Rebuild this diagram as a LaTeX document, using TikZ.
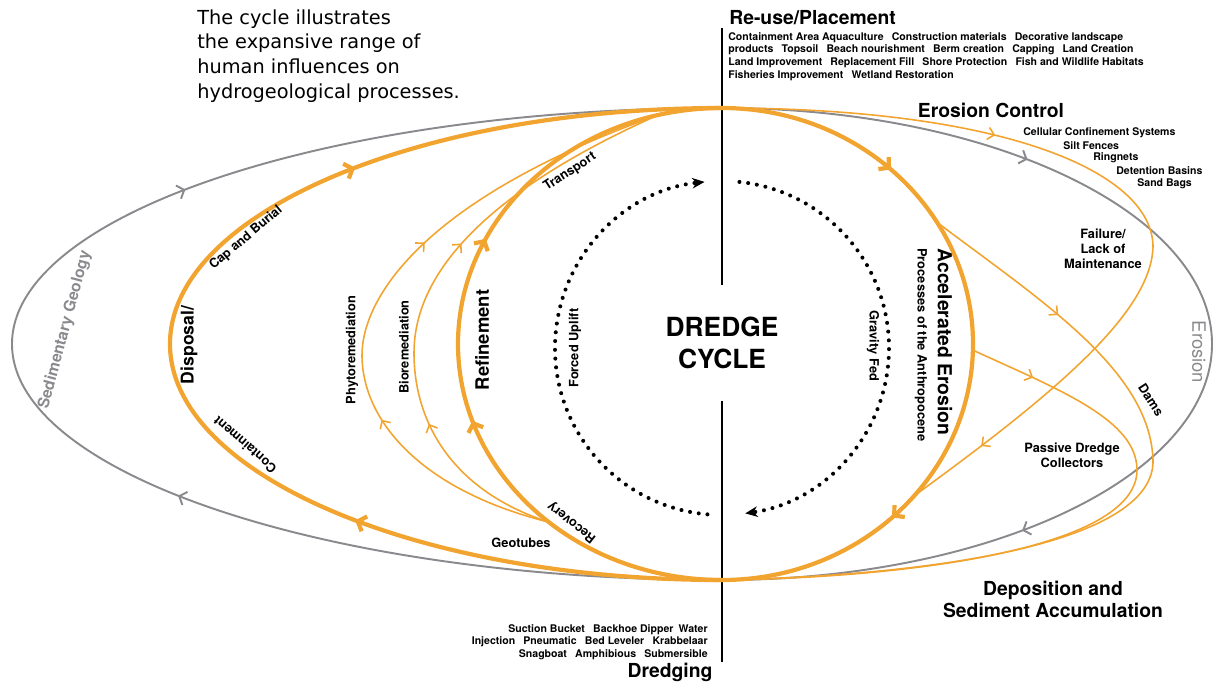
\documentclass[tikz,border=0pt]{standalone}
\usepackage{fontspec}
\setmainfont{TeX Gyre Heros}
\newfontfamily\notefont{DejaVu Sans}
\usepackage{tikz}
\usetikzlibrary{arrows.meta, decorations.markings, calc, positioning}
\usepackage{xcolor}
\definecolor{dorange}{RGB}{242,164,48}
\definecolor{dgray}{RGB}{138,138,142}
\newcommand{\fsz}[2]{\fontsize{#1}{#2}\selectfont}

\begin{document}
\begin{tikzpicture}[x=0.02cm, y=-0.02cm,
        graycurve/.style={draw=dgray, line width=1.1pt, >={Straight Barb[length=3.5pt,width=8pt]}},
        thickcurve/.style={draw=dorange, line width=2.4pt, >={Straight Barb[length=4pt,width=9pt]}},
        thincurve/.style={draw=dorange, line width=0.9pt, >={Straight Barb[length=3.5pt,width=7pt]}},
        arrowsat/.style 2 args={postaction={decorate}, decoration={markings,
                mark=at position #1 with {\arrow{>}},
                mark=at position #2 with {\arrow{>}}}},
        onearrow/.style={postaction={decorate}, decoration={markings,
                mark=at position #1 with {\arrow{>}}}},
        dotarc/.style={line width=2.3pt, line cap=round, dash pattern=on 0pt off 5pt},
        axis/.style={draw=black, line width=1.1pt},
        lbl/.style={font=\bfseries\fsz{7.3pt}{8.6pt}, inner sep=0pt, align=center},
        head/.style={font=\bfseries\fsz{11pt}{12.6pt}, inner sep=0pt, align=center},
        tiny/.style={font=\bfseries\fsz{6pt}{7.2pt}, inner sep=0pt},
        graylbl/.style={text=dgray, font=\fsz{10.5pt}{12pt}, inner sep=0pt}]
\useasboundingbox (0,0) rectangle (1224,684);

% meeting points of the loops
\coordinate (top) at (722,108);
\coordinate (bot) at (722,580);
\coordinate (mid) at (722,344);
\coordinate (cen) at (722,348);

% central axis
\node[font=\bfseries\fsz{15pt}{18pt}, align=center, inner xsep=0pt, inner ysep=18pt] (cycle) at (722,343) {DREDGE\\CYCLE};
\coordinate (axtop) at (722,28);
\coordinate (axend) at (722,662);
\draw[axis] (axtop) -- (cycle.north);
\draw[axis] (cycle.south) -- (axend);

% outer grey loop
\draw[graycurve, arrowsat={0.35}{0.655}] (bot) arc[start angle=90, end angle=270, x radius=710, y radius=236];
\draw[graycurve, arrowsat={0.265}{0.74}] (top) arc[start angle=-90, end angle=90, x radius=490, y radius=236];

% branch points
\coordinate (rf1) at ($(mid)+(131:264 and 236)$);
\coordinate (rf2) at ($(mid)+(256:264 and 236)$);
\coordinate (ae1) at ($(mid)+(-31:251 and 236)$);
\coordinate (ae2) at ($(mid)+(1.5:251 and 236)$);
\coordinate (ae3) at ($(mid)+(40:251 and 236)$);

% left side
\draw[thickcurve, arrowsat={0.29}{0.71}] (bot) arc[start angle=90, end angle=270, x radius=552, y radius=236];
\draw[thickcurve, arrowsat={0.4}{0.64}] (bot) arc[start angle=90, end angle=270, x radius=264, y radius=236];
\draw[thincurve, arrowsat={0.3}{0.6}] (rf1) .. controls (420,490) and (362,420) .. (362,355)
    .. controls (362,300) and (420,200) .. (rf2);
\draw[thincurve, arrowsat={0.27}{0.6}] (rf1) .. controls (450,490) and (414,420) .. (414,353)
    .. controls (414,300) and (445,210) .. (rf2);

% right side
\draw[thickcurve, arrowsat={0.24}{0.758}] (top) arc[start angle=-90, end angle=90, x radius=251, y radius=236];
\draw[thincurve, arrowsat={0.33}{0.9}] (top) .. controls (1000,108) and (1150,170) .. (1153,245)
    .. controls (1153,310) and (1060,390) .. (ae3);
\draw[thincurve, onearrow={0.19}] (ae1) .. controls (1040,300) and (1150,370) .. (1153,460)
    .. controls (1155,540) and (950,575) .. (bot);
\draw[thincurve, onearrow={0.1}] (ae2) .. controls (1060,390) and (1137,420) .. (1137,470)
    .. controls (1137,550) and (900,578) .. (bot);

% inner dotted cycle
\draw[dotarc, -{Stealth[length=7pt,width=6pt]}] ($(cen)+(95:167)$) arc[start angle=95, end angle=264, radius=167];
\draw[dotarc, -{Stealth[length=7pt,width=6pt]}] ($(cen)+(-84:167)$) arc[start angle=-84, end angle=82, radius=167];

% labels
\node[anchor=north west, font=\notefont\fsz{11pt}{14.2pt}, align=left, inner sep=0pt] (note) at (197,9)
    {The cycle illustrates\\the expansive range of\\human influences on\\hydrogeological processes.};

\node[head, anchor=west] (reuse) at (729,18) {Re-use/Placement};
\node[tiny, anchor=north west, align=left] (reuselist) at (728,32)
    {Containment Area Aquaculture\enskip\ Construction materials\enskip\ Decorative landscape\\
     products\enskip\ Topsoil\enskip\ Beach nourishment\enskip\ Berm creation\enskip\ Capping\enskip\ Land Creation\\
     Land Improvement\enskip\ Replacement Fill\enskip\ Shore Protection\enskip\ Fish and Wildlife Habitats\\
     Fisheries Improvement\enskip\ Wetland Restoration};

\node[head] (erctl) at (991,110) {Erosion Control};
\node[tiny, anchor=west] (ec1) at (1023,133) {Cellular Confinement Systems};
\node[tiny, anchor=west] (ec2) at (1063,146) {Silt Fences};
\node[tiny, anchor=west] (ec3) at (1093,158) {Ringnets};
\node[tiny, anchor=west] (ec4) at (1116,171) {Detention Basins};
\node[tiny, anchor=west] (ec5) at (1137,184) {Sand Bags};

\node[lbl] (failure) at (1103,249) {Failure/\\Lack of\\Maintenance};
\node[graylbl, rotate=-90] (erosion) at (1199,352) {Erosion};
\node[lbl, rotate=-57] (dams) at (1151,400) {Dams};
\node[lbl] (passive) at (1072,455) {Passive Dredge\\Collectors};
\node[head] (depos) at (1053,599) {Deposition and\\Sediment Accumulation};

\node[head, rotate=-90] (accel) at (945,342) {Accelerated Erosion};
\node[lbl, rotate=-90] (anthro) at (921,345) {Processes of the Anthropocene};
\node[lbl, rotate=-90] (gravity) at (873,346) {Gravity Fed};
\node[lbl, rotate=90] (uplift) at (575,348) {Forced Uplift};

\node[head, font=\bfseries\fsz{10.5pt}{12pt}, rotate=90] (refine) at (482,340) {Refinement};
\node[lbl, rotate=90] (bio) at (404,347) {Bioremediation};
\node[lbl, rotate=90] (phyto) at (352,350) {Phytoremediation};
\node[head, font=\bfseries\fsz{10pt}{12pt}, rotate=90] (disposal) at (189,345) {Disposal/};
\node[lbl, rotate=40] (cap) at (246,238) {Cap and Burial};
\node[lbl, rotate=139] (contain) at (245,445) {Containment};
\node[font=\bfseries\fsz{9pt}{10pt}, text=dgray, inner sep=0pt, rotate=75] (sedgeo) at (65,330) {Sedimentary Geology};
\node[lbl, rotate=33] (transport) at (570,172) {Transport};
\node[lbl, rotate=142] (recovery) at (572,522) {Recovery};
\node[lbl] (geotubes) at (521,543) {Geotubes};

\node[head] (dredging) at (670,672) {Dredging};
\node[tiny, anchor=north east, align=right] (dredgelist) at (708,624)
    {Suction Bucket\enskip\ Backhoe Dipper\enskip Water\\
     Injection\enskip\ Pneumatic\enskip\ Bed Leveler\enskip\ Krabbelaar\\
     Snagboat\enskip\ Amphibious\enskip\ Submersible};
\end{tikzpicture}
\end{document}
